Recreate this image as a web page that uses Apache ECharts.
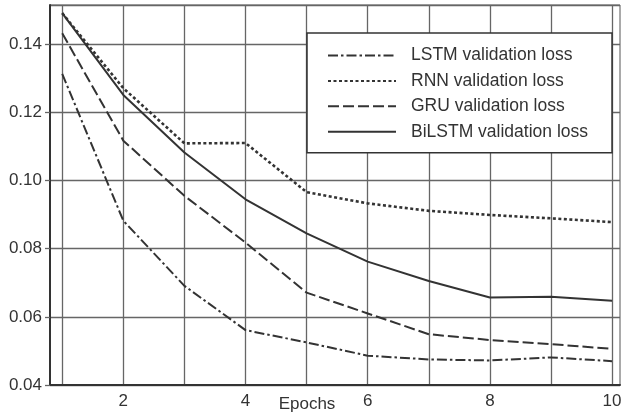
<!DOCTYPE html>
<html>
<head>
<meta charset="utf-8">
<style>
  html, body { margin: 0; padding: 0; background: #fff; }
  #chart { width: 622px; height: 414px; }
</style>
<script src="https://cdn.jsdelivr.net/npm/echarts@6/dist/echarts.min.js"></script>
</head>
<body>
<div id="chart"></div>
<script>
// Epoch numbers and per-model validation loss
const epochs = [1, 2, 3, 4, 5, 6, 7, 8, 9, 10];
const lstmLoss   = [0.1313, 0.0882, 0.0691, 0.0561, 0.0525, 0.0486, 0.0475, 0.0472, 0.0481, 0.0470];
const rnnLoss    = [0.1491, 0.1271, 0.1109, 0.1110, 0.0966, 0.0933, 0.0911, 0.0899, 0.0889, 0.0878];
const gruLoss    = [0.1432, 0.1117, 0.0955, 0.0818, 0.0671, 0.0610, 0.0549, 0.0532, 0.0520, 0.0506];
const bilstmLoss = [0.1491, 0.1251, 0.1082, 0.0945, 0.0845, 0.0762, 0.0705, 0.0657, 0.0659, 0.0647];

const xTickLabels = [2, 4, 6, 8, 10];
const xGridValues = [1, 2, 3, 4, 5, 6, 7, 8, 9, 10];

const seriesNames = ['LSTM validation loss', 'RNN validation loss', 'GRU validation loss', 'BiLSTM validation loss'];

const pair = (vals) => epochs.map((e, i) => [e, vals[i]]);

const ink = '#333333';
const gridGray = '#666666';
const font = 'Liberation Sans, Arial, Helvetica, sans-serif';

function lineSeries(name, vals, dash, width) {
  return {
    name: name,
    type: 'line',
    data: pair(vals),
    symbol: 'none',
    smooth: false,
    color: ink,
    lineStyle: { color: ink, width: width || 2, type: dash },
    z: 3
  };
}

const chart = echarts.init(document.getElementById('chart'), null, { renderer: 'canvas' });
chart.setOption({
  backgroundColor: '#ffffff',
  animation: false,
  textStyle: { fontFamily: font },
  grid: {
    left: 50, right: 2, top: 5, bottom: 29,
    outerBoundsMode: 'none',
    containLabel: false,
    show: true, borderColor: '#555', borderWidth: 1, backgroundColor: 'transparent'
  },
  legend: {
    left: 307, top: 33,
    orient: 'vertical',
    data: seriesNames,
    // line-only keys: hide the marker drawn on top of each key line
    itemStyle: { opacity: 0 },
    itemWidth: 68, itemHeight: 17, itemGap: 7.4,
    padding: [13.5, 24, 12, 20],
    borderColor: '#333', borderWidth: 1.5,
    backgroundColor: '#ffffff',
    selectedMode: false,
    textStyle: { fontFamily: font, fontSize: 17.5, color: '#333', lineHeight: 17, padding: [0, 0, 0, 10] }
  },
  xAxis: {
    type: 'value',
    min: 0.8, max: 10.13,
    name: 'Epochs',
    nameLocation: 'middle',
    nameGap: 11,
    nameMoveOverlap: false,
    nameTextStyle: { fontFamily: font, fontSize: 17, color: '#333', padding: [0, 56, 0, 0] },
    axisLine: { show: true, lineStyle: { color: ink, width: 2 } },
    axisTick: { show: false, customValues: xGridValues },
    axisLabel: { customValues: xTickLabels, fontFamily: font, fontSize: 17, color: '#333', margin: 8 },
    splitLine: { show: true, lineStyle: { color: gridGray, width: 1.3 } }
  },
  yAxis: {
    type: 'value',
    min: 0.04, max: 0.1515, interval: 0.02,
    axisLine: { show: true, lineStyle: { color: ink, width: 2 } },
    axisTick: { show: true, length: 5, lineStyle: { color: gridGray, width: 1.3 } },
    axisLabel: {
      fontFamily: font, fontSize: 17, color: '#333', margin: 8,
      showMaxLabel: false,
      formatter: (v) => v.toFixed(2)
    },
    splitLine: { show: true, lineStyle: { color: gridGray, width: 1.3 } }
  },
  series: [
    lineSeries(seriesNames[0], lstmLoss, [10, 3, 2.5, 3]),
    lineSeries(seriesNames[1], rnnLoss, [3, 2.5], 2.6),
    lineSeries(seriesNames[2], gruLoss, [11, 4]),
    lineSeries(seriesNames[3], bilstmLoss, 'solid')
  ]
});
</script>
</body>
</html>
